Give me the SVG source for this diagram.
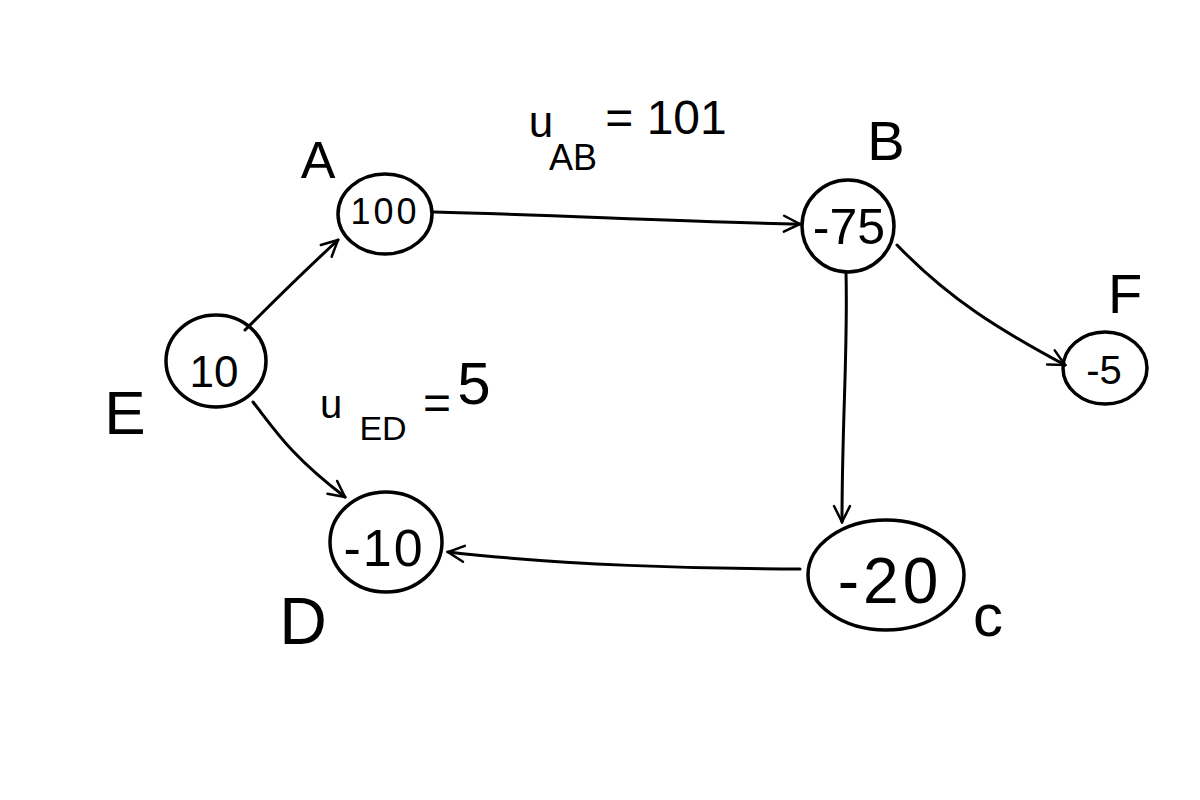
<svg xmlns="http://www.w3.org/2000/svg" width="1200" height="800" viewBox="0 0 1200 800">
<style>
.n{fill:none;stroke:#000;stroke-width:3.5;stroke-linejoin:round}
.e{fill:none;stroke:#000;stroke-width:3;stroke-linecap:round}
.t{font-family:"Liberation Sans",Arial,sans-serif;fill:#000;text-anchor:middle}
</style>
<defs>
<marker id="arr" viewBox="0 0 20 20" refX="18" refY="10" markerWidth="20" markerHeight="20" markerUnits="userSpaceOnUse" orient="auto">
<path d="M2,2 L18,10 L2,18" fill="none" stroke="#000" stroke-width="2.5" stroke-linecap="round"/>
</marker>
</defs>
<rect width="1200" height="800" fill="#fff"/>
<g id="connectors">
<path class="e" d="M245,330 C270,305 300,275 338,240" marker-end="url(#arr)"/>
<path class="e" d="M253,402 C275,430 290,455 345,497" marker-end="url(#arr)"/>
<path class="e" d="M434,212 C560,215 680,222 800,224" marker-end="url(#arr)"/>
<path class="e" d="M897,245 C950,300 1000,330 1065,365" marker-end="url(#arr)"/>
<path class="e" d="M846,272 C848,350 842,420 842,522" marker-end="url(#arr)"/>
<path class="e" d="M800,569 C700,569 560,565 448,552" marker-end="url(#arr)"/>
</g>
<g id="nodeA">
<ellipse class="n" cx="385" cy="214" rx="47" ry="40"/>
<text class="t" x="385" y="224" font-size="36" letter-spacing="3">100</text>
<text class="t" x="318" y="178" font-size="52">A</text>
</g>
<g id="nodeB">
<ellipse class="n" cx="848" cy="226" rx="46" ry="46"/>
<text class="t" x="849" y="244" font-size="50">-75</text>
<text class="t" x="886" y="160" font-size="56">B</text>
</g>
<g id="nodeF">
<ellipse class="n" cx="1105" cy="368" rx="42" ry="36"/>
<text class="t" x="1104" y="384" font-size="40">-5</text>
<text class="t" x="1125" y="313" font-size="56">F</text>
</g>
<g id="nodeE">
<ellipse class="n" cx="216" cy="361" rx="50" ry="46"/>
<text class="t" x="214" y="387" font-size="44">10</text>
<text class="t" x="125" y="434" font-size="62">E</text>
</g>
<g id="nodeD">
<ellipse class="n" cx="386" cy="542" rx="56" ry="50"/>
<text class="t" x="384" y="566" font-size="52" letter-spacing="2">-10</text>
<text class="t" x="303" y="644" font-size="66">D</text>
</g>
<g id="nodeC">
<ellipse class="n" cx="886" cy="575" rx="78" ry="55"/>
<text class="t" x="890" y="603" font-size="64" letter-spacing="4">-20</text>
<text class="t" x="988" y="636" font-size="60">c</text>
</g>
<g id="labels">
<text class="t" x="541" y="137" font-size="44">u</text>
<text class="t" x="573" y="170" font-size="36">AB</text>
<text class="t" x="666" y="134" font-size="48">= 101</text>
<text class="t" x="331" y="418" font-size="40">u</text>
<text class="t" x="383" y="440" font-size="34">ED</text>
<text class="t" x="437" y="419" font-size="48">=</text>
<text class="t" x="474" y="404" font-size="60">5</text>
</g>
</svg>
